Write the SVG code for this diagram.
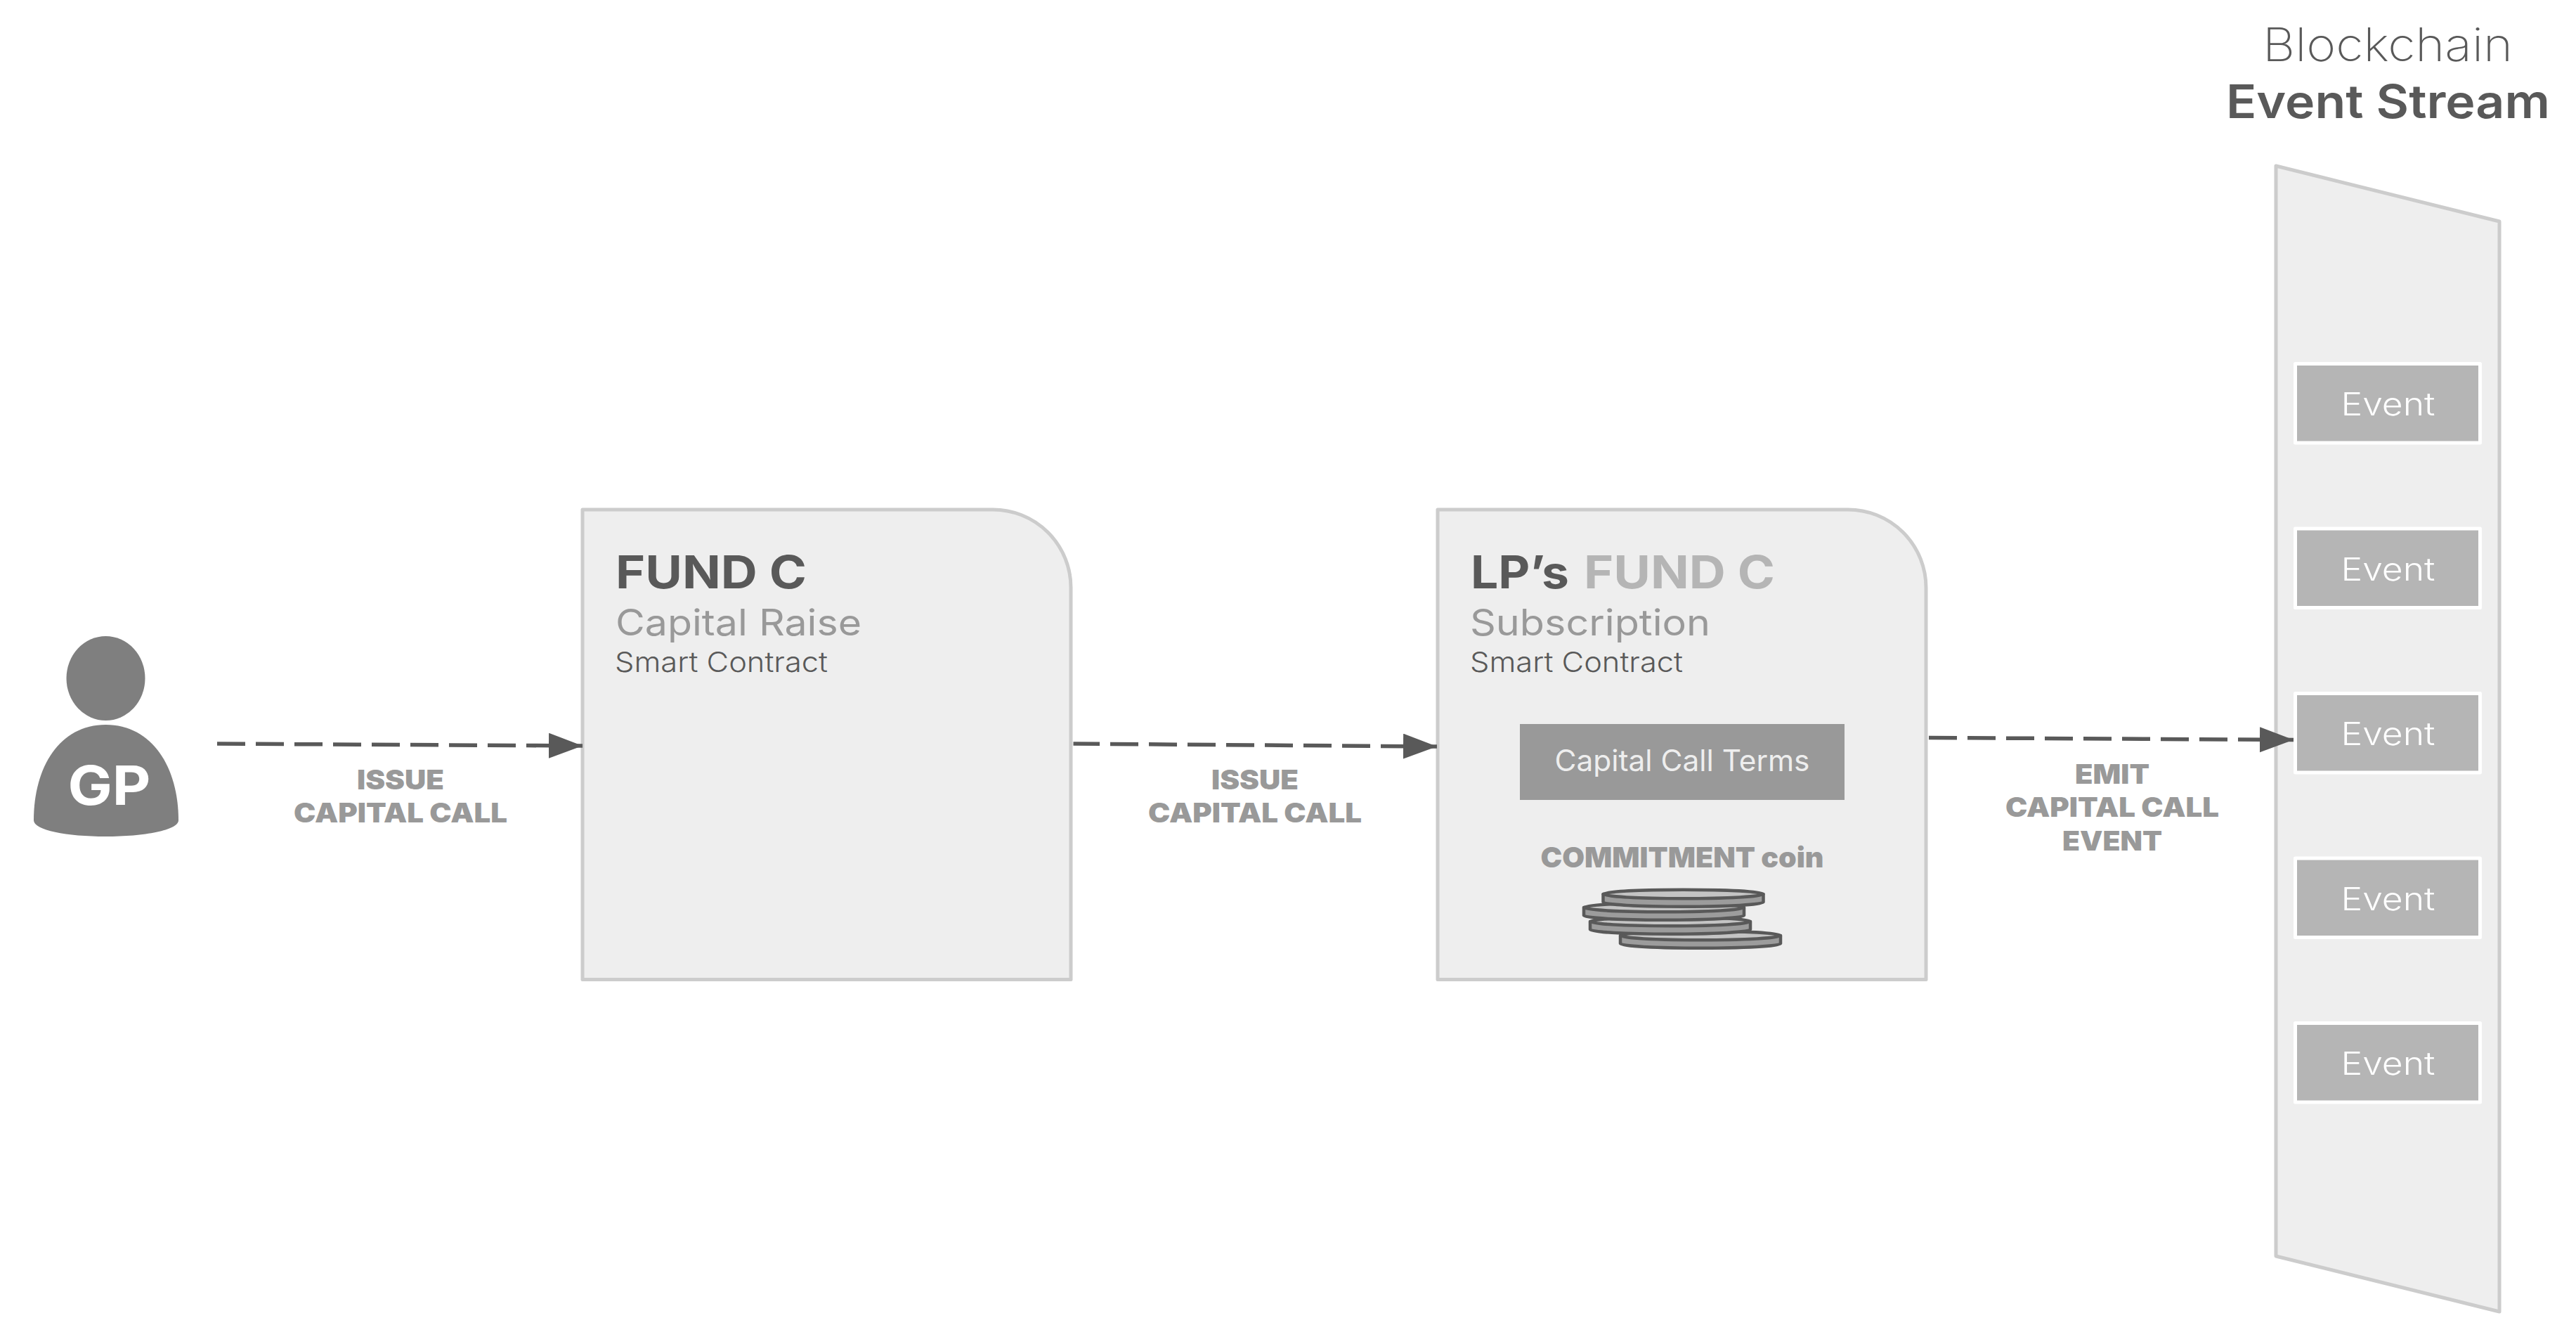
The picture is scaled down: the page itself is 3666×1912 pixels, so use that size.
<svg xmlns="http://www.w3.org/2000/svg" xmlns:xlink="http://www.w3.org/1999/xlink" width="3666" height="1912" viewBox="0 0 3666 1912">
<style>
text{font-family:"Inter","Open Sans","Liberation Sans",sans-serif}
.panel{fill:#eee;stroke:#ccc;stroke-width:5;stroke-linejoin:round}
.flow{fill:none;stroke:#595959;stroke-width:5.500;stroke-dasharray:40 15;marker-end:url(#head)}
.lab{font-size:38px;font-weight:900;fill:#999;text-anchor:middle}
.evbox{fill:#b5b5b5;stroke:#fff;stroke-width:5;stroke-linejoin:round}
.evtx{font-size:45px;font-weight:300;fill:#fff;text-anchor:middle}
.t1{font-size:64px;font-weight:700;fill:#595959}
.t2{font-size:52px;font-weight:400;fill:#999}
.t3{font-size:40px;font-weight:300;fill:#595959}
.coin path,.coin ellipse{stroke:#595959;stroke-width:4.500;stroke-linejoin:round}
</style>
<defs>
<marker id="head" markerUnits="userSpaceOnUse" markerWidth="50" markerHeight="38" refX="48" refY="18" orient="auto"><path d="M0 0L48 18L0 36Z" fill="#595959"/></marker>
<g id="coin" class="coin"><path d="M-114 0V11.500A114 6.200 0 0 0 114 11.500V0Z" fill="#9c9c9c"/><ellipse rx="114" ry="6.200" fill="#c4c4c4"/></g>
</defs>
<rect width="3666" height="1912" fill="#fff"/>
<g id="gp">
<ellipse cx="150.500" cy="965" rx="56" ry="60" fill="#7f7f7f"/>
<path d="M48 1167C48 1091 85 1031 150.500 1031C216 1031 254 1091 254 1167C254 1181 205 1190 150.500 1190C95 1190 48 1181 48 1167Z" fill="#7f7f7f"/>
<text x="155.500" y="1145" font-size="77" font-weight="700" fill="#fff" text-anchor="middle" textLength="118" lengthAdjust="spacingAndGlyphs">GP</text>
</g>
<g id="label-1"><text class="lab" x="570" y="1122.500" textLength="124" lengthAdjust="spacingAndGlyphs">ISSUE</text><text class="lab" x="570" y="1170" textLength="304" lengthAdjust="spacingAndGlyphs">CAPITAL CALL</text></g>
<g id="label-2"><text class="lab" x="1786" y="1122.500" textLength="124" lengthAdjust="spacingAndGlyphs">ISSUE</text><text class="lab" x="1786" y="1170" textLength="304" lengthAdjust="spacingAndGlyphs">CAPITAL CALL</text></g>
<g id="label-3"><text class="lab" x="3006" y="1114.500" textLength="106" lengthAdjust="spacingAndGlyphs">EMIT</text><text class="lab" x="3006" y="1162" textLength="304" lengthAdjust="spacingAndGlyphs">CAPITAL CALL</text><text class="lab" x="3006" y="1209.500" textLength="142" lengthAdjust="spacingAndGlyphs">EVENT</text></g>
<g id="fund-c">
<path class="panel" d="M829 725H1413A111 111 0 0 1 1524 836V1393.500H829Z"/>
<text class="t1" x="876" y="837" textLength="272" lengthAdjust="spacingAndGlyphs">FUND C</text>
<text class="t2" x="876" y="904" textLength="350" lengthAdjust="spacingAndGlyphs">Capital Raise</text>
<text class="t3" x="875" y="956" textLength="303" lengthAdjust="spacingAndGlyphs">Smart Contract</text>
</g>
<g id="lp-fund-c">
<path class="panel" d="M2046 725H2630A111 111 0 0 1 2741 836V1393.500H2046Z"/>
<text class="t1" x="2093" y="837" textLength="140" lengthAdjust="spacingAndGlyphs">LP’s</text>
<text class="t1" x="2254" y="837" style="fill:#b5b5b5" textLength="272" lengthAdjust="spacingAndGlyphs">FUND C</text>
<text class="t2" x="2092" y="904" textLength="342" lengthAdjust="spacingAndGlyphs">Subscription</text>
<text class="t3" x="2092" y="956" textLength="303" lengthAdjust="spacingAndGlyphs">Smart Contract</text>
<rect x="2163" y="1030" width="462" height="108" fill="#999"/>
<text x="2394" y="1097" font-size="42" font-weight="400" fill="#eee" text-anchor="middle" textLength="363" lengthAdjust="spacingAndGlyphs">Capital Call Terms</text>
<text x="2394" y="1234" font-size="40" font-weight="900" fill="#999" text-anchor="middle" textLength="403" lengthAdjust="spacingAndGlyphs">COMMITMENT coin</text>
<use xlink:href="#coin" href="#coin" x="2420" y="1331"/>
<use xlink:href="#coin" href="#coin" x="2377" y="1311"/>
<use xlink:href="#coin" href="#coin" x="2368" y="1291"/>
<use xlink:href="#coin" href="#coin" x="2395.500" y="1272"/>
</g>
<g id="event-stream">
<path class="panel" d="M3239 236L3557 315V1866L3239 1787Z"/>
<text x="3398" y="87" font-size="66" font-weight="200" fill="#595959" text-anchor="middle" textLength="356" lengthAdjust="spacingAndGlyphs">Blockchain</text>
<text x="3398.500" y="168" font-size="66" font-weight="600" fill="#595959" text-anchor="middle" textLength="461" lengthAdjust="spacingAndGlyphs">Event Stream</text>
</g>
<g id="event-1"><rect class="evbox" x="3266.500" y="517.500" width="263" height="112.500"/><text class="evtx" x="3398.500" y="591" textLength="134" lengthAdjust="spacingAndGlyphs">Event</text></g>
<g id="event-2"><rect class="evbox" x="3266.500" y="752" width="263" height="112.500"/><text class="evtx" x="3398.500" y="825.500" textLength="134" lengthAdjust="spacingAndGlyphs">Event</text></g>
<g id="event-3"><rect class="evbox" x="3266.500" y="986.500" width="263" height="112.500"/><text class="evtx" x="3398.500" y="1060" textLength="134" lengthAdjust="spacingAndGlyphs">Event</text></g>
<g id="event-4"><rect class="evbox" x="3266.500" y="1221" width="263" height="112.500"/><text class="evtx" x="3398.500" y="1294.500" textLength="134" lengthAdjust="spacingAndGlyphs">Event</text></g>
<g id="event-5"><rect class="evbox" x="3266.500" y="1455.500" width="263" height="112.500"/><text class="evtx" x="3398.500" y="1529" textLength="134" lengthAdjust="spacingAndGlyphs">Event</text></g>
<g id="connectors">
<path class="flow" d="M309 1058L829 1061"/>
<path class="flow" d="M1527.500 1058L2045 1062" stroke-dashoffset="2.500"/>
<path class="flow" d="M2745 1049.500L3264 1052.500"/>
</g>
</svg>
